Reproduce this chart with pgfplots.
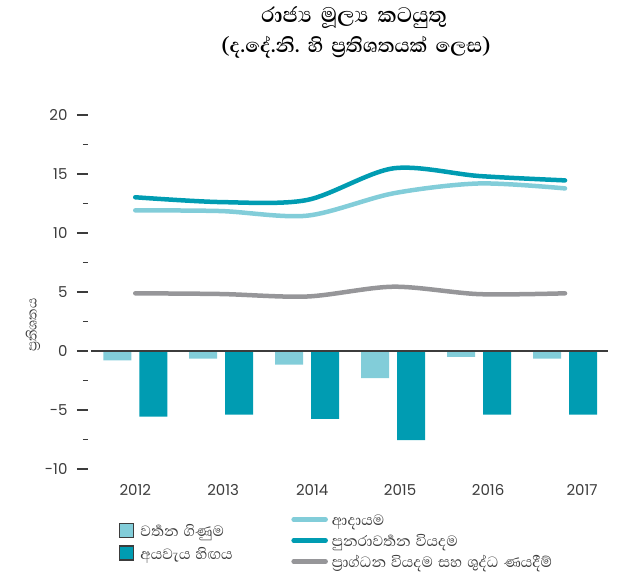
\documentclass[border=0pt]{standalone}
\usepackage{pgfplots}
\pgfplotsset{compat=1.18}
\usepackage{fontspec}
\setmainfont{Poppins}
\newfontfamily\sinhfont[Script=Sinhala]{Abhaya Libre}
\definecolor{lightc}{RGB}{130,205,217}
\definecolor{darkc}{RGB}{0,156,178}
\definecolor{grayc}{RGB}{150,150,153}
\definecolor{txt}{RGB}{60,60,60}
\pgfplotsset{
  base/.style={
    at={(0pt,0pt)}, anchor=south west, scale only axis,
    width=520pt, height=354pt,
    xmin=-0.55, xmax=5.5, ymin=-10, ymax=20,
    axis line style={draw=none},
    clip=false,
    xtick={0,1.023,2.058,3.081,4.105,5.198},
    xticklabels={2012,2013,2014,2015,2016,2017},
    xtick style={draw=none},
    xticklabel style={yshift=-1pt},
    ytick={-10,-5,0,5,10,15,20},
    minor ytick={-7.5,-2.5,2.5,7.5,12.5,17.5},
    ytick pos=left, tick align=outside,
    major tick length=11pt, minor tick length=5pt,
    ytick style={txt, line width=1.2pt},
    minor tick style={txt, line width=1.2pt},
    yticklabel style={xshift=-6pt},
    tick label style={font=\fontsize{15}{17}\selectfont, text=txt},
    /pgf/number format/assume math mode=true,
  }
}
\begin{document}
\begin{tikzpicture}
\begin{axis}[base,
  legend style={at={(axis description cs:0.385,-0.114)}, anchor=north west,
    draw=none, fill=none, font=\sinhfont\fontsize{19}{21}\selectfont, text=txt,
    row sep=5pt, cells={anchor=west},
    nodes={inner ysep=1pt, inner xsep=4pt, text height=13pt, text depth=1pt}},
  legend image code/.code={\draw[#1] (2pt,0pt) -- (34pt,0pt);},
]
\path (axis description cs:-0.1692,-0.2938) rectangle (axis description cs:1.0346,1.3249);
\node[font=\sinhfont\bfseries\fontsize{27}{30}\selectfont] at (axis description cs:0.5115,1.274) {රාජ්^^^^200dය\hspace{9pt}මූල්^^^^200dය\hspace{9pt}කටයුතු};
\node[font=\sinhfont\bfseries\fontsize{25}{28}\selectfont] at (axis description cs:0.5154,1.192) {(ද.දේ.නි.\hspace{8pt}හි\hspace{8pt}ප්^^^^200dරතිශතයක්\hspace{8pt}ලෙස)};
\node[font=\sinhfont\fontsize{17}{19}\selectfont, text=txt, rotate=90] at (axis description cs:-0.1058,0.4068) {ප්^^^^200dරතිශතය};
\addplot[ybar, bar width=28pt, bar shift=-18pt, fill=lightc, draw=none, forget plot]
  coordinates {(0,-0.8) (1,-0.65) (2,-1.15) (3,-2.3) (4,-0.5) (5,-0.65)};
\addplot[ybar, bar width=28pt, bar shift=18pt, fill=darkc, draw=none, forget plot]
  coordinates {(0,-5.55) (1,-5.4) (2,-5.75) (3,-7.55) (4,-5.4) (5,-5.4)};
\draw[txt, line width=1.3pt] (axis cs:-0.515,0) -- (axis cs:5.5,0);
\addplot[lightc, line width=4.5pt, line cap=round, smooth, no marks]
  coordinates {(0,11.92) (1,11.86) (2,11.47) (3,13.36) (4,14.2) (5,13.78)};
\addlegendentry{ආදායම}
\addplot[darkc, line width=4.5pt, line cap=round, smooth, no marks]
  coordinates {(0,13.03) (1,12.62) (2,12.8) (3,15.48) (4,14.83) (5,14.46)};
\addlegendentry{පුනරාවර්^^^^200dතන\hspace{5pt}වියදම}
\addplot[grayc, line width=4.5pt, line cap=round, smooth, no marks]
  coordinates {(0,4.89) (1,4.83) (2,4.62) (3,5.45) (4,4.82) (5,4.89)};
\addlegendentry{ප්^^^^200dරාග්ධන\hspace{5pt}වියදම\hspace{5pt}සහ\hspace{5pt}ශුද්ධ\hspace{5pt}ණයදීම්}
\end{axis}
\begin{axis}[base,
  tick style={draw=none}, minor tick style={draw=none},
  tick label style={opacity=0},
  legend style={at={(axis description cs:0.054,-0.145)}, anchor=north west,
    draw=none, fill=none, font=\sinhfont\fontsize{19}{21}\selectfont, text=txt,
    row sep=6.5pt, cells={anchor=west},
    nodes={inner ysep=1pt, inner xsep=6pt, text height=13pt, text depth=1pt}},
  legend image code/.code={\draw[#1] (0pt,-7pt) rectangle (14pt,7pt);},
]
\addlegendimage{fill=lightc, draw=txt, line width=1.2pt}
\addlegendentry{වර්^^^^200dතන\hspace{5pt}ගිණුම}
\addlegendimage{fill=darkc, draw=txt, line width=1.2pt}
\addlegendentry{අයවැය\hspace{5pt}හිඟය}
\end{axis}
\end{tikzpicture}
\end{document}
